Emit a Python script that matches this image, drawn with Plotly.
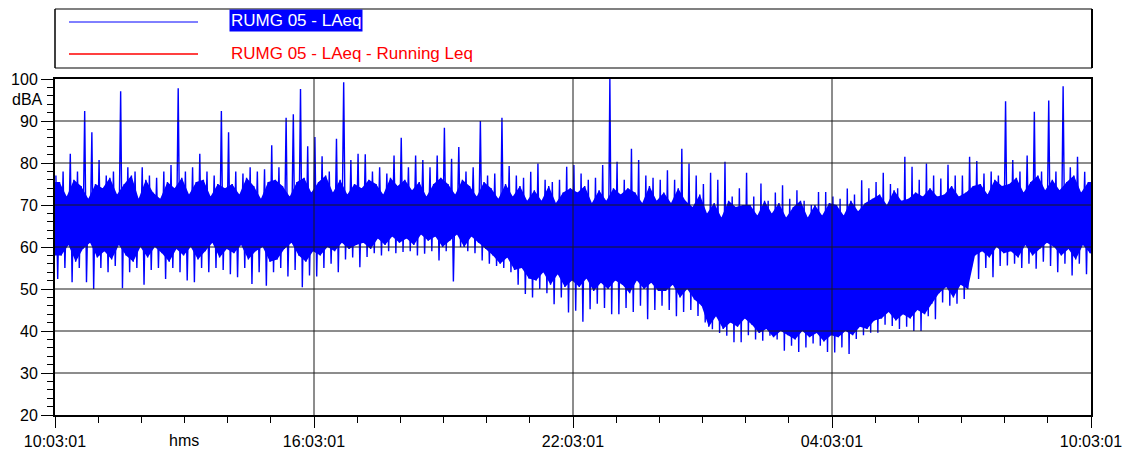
import plotly.graph_objects as go
import pandas as pd

# ---------------- data ----------------
START = "2024-01-01 10:03:01"
END = "2024-01-02 10:03:01"
BIN_MINUTES = 10

# highest LAeq stroke per 10-minute bin (dBA), 6 bins per hour
laeq_hi = [
    77, 78, 82.2, 78, 92.4, 87.3,
    80.7, 77, 78, 97.1, 79, 78,
    79, 77, 76.5, 78, 79.5, 97.8,
    78, 79, 82.2, 78, 77, 92.4,
    87.3, 78, 77.5, 79, 78, 78.5,
    84.2, 79, 90.8, 91.6, 97.6, 84,
    86.2, 81.6, 78, 85.8, 99.2, 80.7,
    82.2, 82.1, 78, 79, 77.5, 81.8,
    86, 79, 81.8, 80.7, 79, 81.8,
    88.4, 81, 83.8, 78, 79, 90,
    77, 77.5, 90.8, 79.3, 77, 76.5,
    77.9, 79.9, 76, 75.5, 76, 79.1,
    79.5, 77.5, 76, 76.5, 79.5, 100,
    80.3, 76, 83.4, 80.7, 77, 76.5,
    76, 78.3, 76, 83.4, 79.9, 77,
    75, 77.7, 76, 80.3, 72, 74,
    77.7, 72, 75.1, 71, 73, 74.7,
    71.5, 73.5, 71, 70, 73.1, 73.1,
    72, 71.5, 73.9, 72.5, 75.9, 74,
    75.5, 77.7, 75, 74, 81.5, 79.1,
    76, 79.9, 77, 76.3, 79.6, 77,
    77, 81.5, 80.5, 77.5, 78, 77,
    94.7, 80.7, 78, 81.8, 92.2, 78,
    94.9, 78, 98.3, 79, 81.5, 77.9,
]

# lowest LAeq stroke per 10-minute bin (dBA)
laeq_lo = [
    52.4, 55, 51.6, 55, 51.6, 50,
    55, 54, 55.5, 50.2, 54, 55,
    51, 54.5, 55, 52.4, 55, 54,
    52, 51.6, 55, 54, 55, 54.5,
    53.5, 52.8, 55, 51.2, 54, 50.8,
    54, 55, 53, 54.5, 50.4, 53.2,
    53, 55, 56, 54, 57, 57.5,
    55.2, 57.6, 58.5, 58, 59, 58.5,
    58.8, 59, 58, 58.4, 59, 56.8,
    59, 51.8, 60, 59, 58.5, 56.8,
    56, 55.5, 55, 54, 51, 48.8,
    48, 50, 49, 46.4, 48, 44.4,
    44.8, 42.2, 45.2, 46.5, 45.5, 44,
    44, 45.5, 44.5, 46, 42.8, 45,
    46, 45, 43.5, 44.5, 45, 43.6,
    42, 40.4, 39.5, 38.9, 37.3, 37.3,
    39, 38, 37.7, 38.9, 38, 35.3,
    36.5, 35, 36.1, 37, 36.5, 35,
    34.9, 36.1, 34.5, 38.1, 39, 39.6,
    39.6, 41.5, 41.2, 40.5, 41, 40,
    40, 43.5, 42.8, 46.8, 46, 46.5,
    47.6, 55.2, 52.4, 55, 52.8, 55.5,
    55.6, 56, 55, 56, 54.8, 56.5,
    55.5, 54, 56, 53.2, 56, 53.5,
]

# top of the dense (solid) part of the trace per 10-minute bin (dBA)
laeq_dense_hi = [
    75.5, 72, 76, 74.5, 71.5, 75,
    74, 76.5, 72.5, 75, 77, 71.5,
    76, 73, 71.5, 75.5, 74, 76.5,
    72.5, 75.5, 76, 72, 75, 74,
    75, 72.5, 76.5, 74.5, 71.5, 75.5,
    76, 74.5, 72, 75.5, 76.5, 73,
    75.5, 77, 73, 76, 72.5, 75,
    74, 76, 75, 72.5, 76.5, 74.5,
    76, 73.5, 75.5, 72, 75, 76.5,
    75, 72.5, 76, 74.5, 72, 75.5,
    74, 71.5, 75, 72, 74.5, 71,
    73.5, 71, 74.5, 70.5, 73, 74,
    73, 74.5, 70.5, 73.5, 71, 74,
    72.5, 74, 73, 70.5, 74.5, 71,
    73, 70.5, 74, 71, 69.5, 72.5,
    68, 70.5, 67, 71, 69.5, 70,
    70, 67.5, 71, 68, 70.5, 67,
    69.5, 71, 67, 70, 67.5, 70.5,
    70, 67.5, 71, 68.5, 70.5, 71.5,
    72.5, 70, 73.5, 71, 71.5, 73,
    72, 74, 72, 72.5, 74.5, 72,
    73, 74.5, 75, 72.5, 76, 74.5,
    75, 76.5, 73, 75.5, 77, 73.5,
    76, 73.5, 75.5, 77, 73, 75.5,
]

# bottom of the dense (solid) part of the trace per 10-minute bin (dBA)
laeq_dense_lo = [
    58, 60.5, 56.5, 59.5, 61, 57.5,
    59, 57, 60.5, 58, 56.5, 60,
    57.5, 60, 58.5, 56.5, 59.5, 58,
    60, 57, 59, 61, 57.5, 59.5,
    58.5, 60.5, 57, 59, 60, 56.5,
    57, 59.5, 61, 58, 56.5, 59,
    58, 60, 59, 61, 59.5, 60.5,
    61, 59.5, 62, 60.5, 62.5, 61,
    62, 60.5, 63, 61.5, 62.5, 60,
    61.5, 63, 60, 62.5, 61, 59.5,
    58, 56, 57.5, 54.5, 55, 52.5,
    52, 54, 51, 53.5, 50.5, 52,
    50.5, 52.5, 49.5, 51.5, 50, 52,
    51, 49, 52, 50, 51.5, 49.5,
    49.5, 51, 48, 50, 47.5, 46,
    41, 43.5, 40.5, 42, 41, 43,
    41.5, 39.5, 40.5, 38.5, 40, 39,
    38, 40, 38.5, 39.5, 37.5, 39,
    38.5, 40, 39, 41, 40.5, 42.5,
    43, 44.5, 42.5, 44, 43, 45,
    44, 46.5, 49, 50.5, 48, 51,
    50, 58, 59, 57.5, 60, 58.5,
    59, 57.5, 60.5, 58, 59.5, 61,
    60, 58, 59.5, 57, 60.5, 58.5,
]

tick_hours = [0, 6, 12, 18, 24]
grid_db = [30, 40, 50, 60, 70, 80, 90]
series_names = ["RUMG 05 - LAeq", "RUMG 05 - LAeq - Running Leq"]

# ---------------- build ----------------
start = pd.Timestamp(START)
end = pd.Timestamp(END)
n = len(laeq_hi)


def at(k, minutes):
    return start + pd.Timedelta(minutes=k * BIN_MINUTES + minutes)


# stroke line: outer peak, outer dip, dense top, dense bottom in every bin
xs, ys = [], []
for k in range(n):
    vals = [laeq_hi[k], laeq_lo[k], laeq_dense_hi[k], laeq_dense_lo[k]]
    for j, v in enumerate(vals):
        xs.append(at(k, 1.25 + 2.5 * j))
        ys.append(v)

# solid body between the dense top and dense bottom values
top_x = [start] + [at(k, 6.25) for k in range(n)] + [end]
top_y = [laeq_dense_hi[0]] + laeq_dense_hi + [laeq_dense_hi[-1]]
bot_x = [start] + [at(k, 8.75) for k in range(n)] + [end]
bot_y = [laeq_dense_lo[0]] + laeq_dense_lo + [laeq_dense_lo[-1]]
poly_x = top_x + bot_x[::-1]
poly_y = top_y + bot_y[::-1]

BLUE = "#0000FF"
RED = "#FF0000"
GRID = "#1a1a1a"
FONT = "Liberation Sans, Arial, Helvetica, sans-serif"

fig = go.Figure()
fig.add_trace(go.Scatter(x=poly_x, y=poly_y, fill="toself", fillcolor=BLUE,
                         line=dict(width=0), mode="lines", hoverinfo="skip",
                         showlegend=False))
fig.add_trace(go.Scatter(x=xs, y=ys, mode="lines", line=dict(color=BLUE, width=1.4),
                         name=series_names[0], showlegend=False))

W, H = 1130, 452
L, R, T, B = 55, 1091, 79, 415


def px(xp):
    return (xp - L) / (R - L)


def py(yp):
    return (B - yp) / (B - T)


shapes = []
# grid drawn above the data, as in the reference
for v in grid_db:
    shapes.append(dict(type="line", xref="paper", yref="y", x0=0, x1=1, y0=v, y1=v,
                       layer="above", line=dict(color=GRID, width=1)))
for h in tick_hours[1:-1]:
    t = start + pd.Timedelta(hours=h)
    shapes.append(dict(type="line", xref="x", yref="paper", x0=t, x1=t, y0=0, y1=1,
                       layer="above", line=dict(color=GRID, width=1)))

shapes += [
    # legend box
    dict(type="line", xref="paper", yref="paper", x0=px(55), x1=px(1092), y0=py(9), y1=py(9),
         line=dict(color="#808080", width=2)),
    dict(type="line", xref="paper", yref="paper", x0=px(55), x1=px(1092), y0=py(68), y1=py(68),
         line=dict(color="#808080", width=2)),
    dict(type="line", xref="paper", yref="paper", x0=px(55), x1=px(55), y0=py(9), y1=py(68),
         line=dict(color="#000000", width=1.5)),
    dict(type="line", xref="paper", yref="paper", x0=px(1092), x1=px(1092), y0=py(9), y1=py(68),
         line=dict(color="#000000", width=2)),
    # legend samples
    dict(type="line", xref="paper", yref="paper", x0=px(69), x1=px(198), y0=py(22), y1=py(22),
         line=dict(color=BLUE, width=1)),
    dict(type="line", xref="paper", yref="paper", x0=px(69), x1=px(198), y0=py(54), y1=py(54),
         line=dict(color=RED, width=1.3)),
]

annotations = [
    dict(text=series_names[0], xref="paper", yref="paper", x=px(229), y=py(21), xanchor="left",
         yanchor="middle", showarrow=False, bgcolor=BLUE, borderpad=1,
         font=dict(family=FONT, size=17, color="#FFFFFF")),
    dict(text=series_names[1], xref="paper", yref="paper", x=px(229), y=py(53), xanchor="left",
         yanchor="middle", showarrow=False, borderpad=1,
         font=dict(family=FONT, size=17, color=RED)),
    dict(text="dBA", xref="paper", yref="paper", x=px(44), y=py(99), xanchor="right",
         yanchor="middle", showarrow=False, borderpad=0,
         font=dict(family=FONT, size=16, color="#000000")),
    dict(text="hms", xref="paper", yref="paper", x=px(184), y=py(440), xanchor="center",
         yanchor="middle", showarrow=False,
         font=dict(family=FONT, size=16, color="#000000")),
]

fig.update_layout(
    width=W, height=H,
    margin=dict(l=L, r=W - R, t=T, b=H - B, pad=0, autoexpand=False),
    paper_bgcolor="#FFFFFF", plot_bgcolor="#FFFFFF",
    font=dict(family=FONT, size=16, color="#000000"),
    shapes=shapes, annotations=annotations, showlegend=False,
)
fig.update_xaxes(
    type="date", range=[start, end], automargin=False,
    tickmode="array", tickvals=[start + pd.Timedelta(hours=h) for h in tick_hours],
    tickformat="%H:%M:%S", tickfont=dict(family=FONT, size=16, color="#000000"),
    ticks="outside", ticklen=11, tickwidth=1.2, tickcolor="#000000",
    showgrid=False,
    showline=True, linecolor="#000000", linewidth=2, mirror=True,
    zeroline=False,
    minor=dict(tickmode="linear", tick0=start, dtick=3600000, ticks="outside", ticklen=6,
               tickcolor="#000000", showgrid=False),
)
fig.update_yaxes(
    range=[20, 100], tick0=20, dtick=10, automargin=False,
    tickfont=dict(family=FONT, size=16, color="#000000"),
    ticks="outside", ticklen=12, tickwidth=1.2, tickcolor="#000000",
    showgrid=False,
    showline=True, linecolor="#000000", linewidth=2, mirror=True,
    zeroline=False,
    minor=dict(dtick=2, ticks="outside", ticklen=6, tickcolor="#000000", showgrid=False),
)

fig.write_html("out.html")
